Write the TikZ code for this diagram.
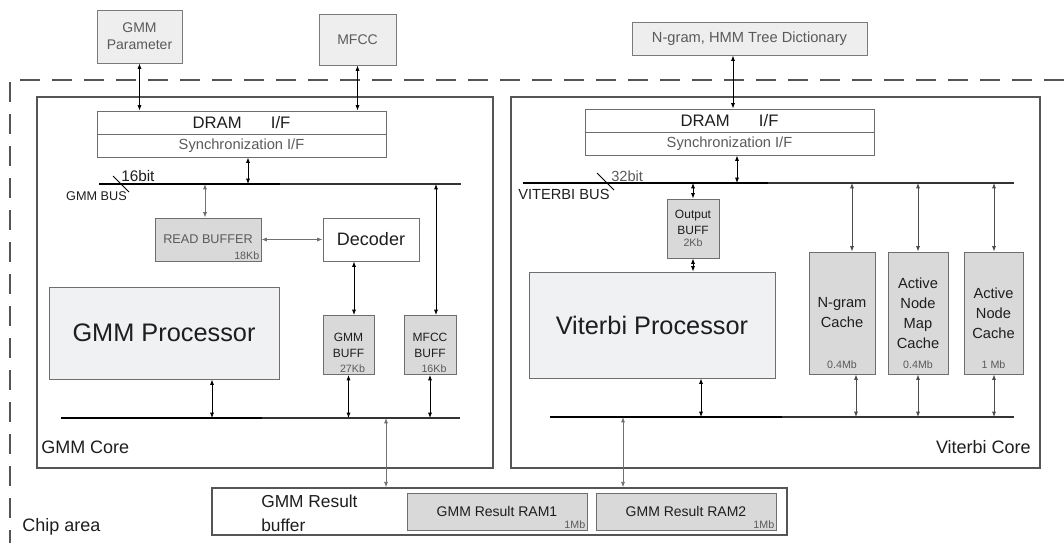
\documentclass[tikz,border=0pt]{standalone}
\usepackage{fontspec}
\setmainfont{Liberation Sans}
\usetikzlibrary{arrows.meta}
\usepackage{xcolor}
\definecolor{extfill}{HTML}{EEEEEE}
\definecolor{extline}{HTML}{7A7A7A}
\definecolor{boxline}{HTML}{6E6E6E}
\definecolor{buffill}{HTML}{D9D9D9}
\definecolor{procfill}{HTML}{F0F1F3}
\definecolor{coreline}{HTML}{555555}
\definecolor{txtdark}{HTML}{1E1E1E}
\definecolor{txtgray}{HTML}{5A5A5A}
\definecolor{arrgray}{HTML}{707070}
\newcommand\fsz[2]{\fontsize{#1}{#2}\selectfont}
\tikzset{
  box/.style 2 args={minimum width=#1*0.75pt, minimum height=#2*0.75pt, inner sep=0pt, align=center},
  ext/.style={draw=extline, fill=extfill, line width=0.7pt, text=txtgray, font=\fsz{10.5pt}{12.5pt}},
  blk/.style={draw=boxline, fill=white, line width=0.7pt, text=txtdark},
  buf/.style={draw=boxline, fill=buffill, line width=0.7pt, text=txtdark},
  proc/.style={draw=boxline, fill=procfill, line width=0.7pt, text=txtdark, font=\fsz{19pt}{22pt}},
  core/.style={draw=coreline, line width=1.6pt},
  chip/.style={draw=coreline, line width=2pt, dash pattern=on 15pt off 9pt},
  busthick/.style={draw=black, line width=1.7pt},
  busthin/.style={draw=black!80, line width=1.1pt},
  sizelbl/.style={font=\fsz{8pt}{9pt}, text=txtgray, inner sep=1.5pt},
  lbl/.style={inner sep=0pt, text=txtdark},
  arr/.style={<->, >={Latex[length=4pt,width=3pt]}, line width=0.6pt},
  garr/.style={arr, draw=arrgray}
}

\begin{document}
\begin{tikzpicture}[x=0.75pt,y=-0.75pt]
\useasboundingbox (0,0) rectangle (1064,543);

% outside the chip
\node[ext, box={85}{53}] (gpar) at (139.5,36.5) {GMM\\Parameter};
\node[ext, box={77}{51}] (mfcc) at (357.5,39.5) {MFCC};
\node[ext, box={235}{33}, font=\fsz{11pt}{13pt}] (dict) at (749.5,38.5) {N-gram, HMM Tree Dictionary};

\draw[chip] (1064,80) -- (10,80) -- (10,543);
\node[lbl, font=\fsz{13.5pt}{16pt}, anchor=west] (chiplbl) at (22,527) {Chip area};

% GMM core
\node[core, box={456}{371}] (gcore) at (265,282.5) {};
\node[lbl, font=\fsz{13.5pt}{16pt}, anchor=west] (gcorelbl) at (41,447) {GMM Core};

\node[blk, box={289}{23}, font=\fsz{12.5pt}{14pt}] (ldram) at (241.5,122.5) {DRAM\hspace{22pt}I/F};
\node[blk, box={289}{23}, font=\fsz{11pt}{13pt}, text=txtgray] (lsync) at (241.5,145.5) {Synchronization I/F};

\coordinate (gbusL) at (99,184);
\coordinate (gbusM) at (280,184);
\coordinate (gbusR) at (461,184);
\draw[busthick] (gbusL) -- (gbusM);
\draw[busthin] (gbusM) -- (gbusR);
\draw[line width=0.6pt] (113,176) -- (129,192);
\node[lbl, font=\fsz{11.5pt}{13pt}, anchor=west] (gbits) at (121,176) {16bit};
\node[lbl, font=\fsz{9.5pt}{11pt}, anchor=east] (gbusname) at (127,196) {GMM BUS};

\node[buf, box={106}{43}, font=\fsz{9.5pt}{11pt}, text=txtgray] (rbuf) at (208,239.5) {READ BUFFER};
\node[sizelbl, anchor=south east] (rbufsz) at (rbuf.south east) {18Kb};
\node[blk, box={96}{43}, font=\fsz{13.5pt}{16pt}] (dec) at (371,239.5) {Decoder};
\node[proc, box={230}{92}] (gproc) at (164,333) {GMM Processor};
\node[buf, box={51}{59}, font=\fsz{9pt}{12pt}] (gbuf) at (348.5,345) {GMM\\BUFF};
\node[sizelbl, anchor=south] (gbufsz) at ([xshift=3pt]gbuf.south) {27Kb};
\node[buf, box={52}{59}, font=\fsz{9pt}{12pt}] (mbuf) at (430,345) {MFCC\\BUFF};
\node[sizelbl, anchor=south] (mbufsz) at ([xshift=3pt]mbuf.south) {16Kb};

\coordinate (gbotL) at (61,418);
\coordinate (gbotM) at (262,418);
\coordinate (gbotR) at (460,418);
\draw[busthick] (gbotL) -- (gbotM);
\draw[busthin] (gbotM) -- (gbotR);

\draw[arr] (gpar.south) -- (gpar.south |- ldram.north);
\draw[arr] (mfcc.south) -- (mfcc.south |- ldram.north);
\draw[arr] (248,0 |- lsync.south) -- (248,0 |- gbusL);
\draw[garr] (205,0 |- gbusL) -- (205,0 |- rbuf.north);
\draw[arr] (436,0 |- gbusL) -- (436,0 |- mbuf.north);
\draw[garr] (rbuf.east) -- (dec.west);
\draw[arr] (354,0 |- dec.south) -- (354,0 |- mbuf.north);
\draw[arr] (212,0 |- gproc.south) -- (212,0 |- gbotL);
\draw[arr] (gbuf.south) -- (gbuf.south |- gbotL);
\draw[arr] (mbuf.south) -- (mbuf.south |- gbotL);

% Viterbi core
\node[core, box={529}{371}] (vcore) at (775.5,282.5) {};
\node[lbl, font=\fsz{13.5pt}{16pt}, anchor=east] (vcorelbl) at (1031,447) {Viterbi Core};

\node[blk, box={289}{23}, font=\fsz{12.5pt}{14pt}] (rdram) at (729.5,120.5) {DRAM\hspace{22pt}I/F};
\node[blk, box={289}{23}, font=\fsz{11pt}{13pt}, text=txtgray] (rsync) at (729.5,143.5) {Synchronization I/F};

\coordinate (vbusL) at (523,183);
\coordinate (vbusM) at (768,183);
\coordinate (vbusR) at (1014,183);
\draw[busthick] (vbusL) -- (vbusM);
\draw[busthin] (vbusM) -- (vbusR);
\draw[line width=0.6pt] (597,173) -- (614,190);
\node[lbl, font=\fsz{11pt}{13pt}, text=txtgray, anchor=west] (vbits) at (611,176) {32bit};
\node[lbl, font=\fsz{11pt}{13pt}, anchor=west] (vbusname) at (518,194) {VITERBI BUS};

\node[buf, box={52}{59}, font=\fsz{9pt}{12pt}] (obuf) at (693,228.5) {Output\\BUFF\\[-3pt]{\fsz{8pt}{9pt}\color{txtgray}2Kb}};
\node[proc, box={246}{106}] (vproc) at (652,325) {Viterbi Processor};
\node[buf, box={66}{122}, font=\fsz{11pt}{15pt}] (ncache) at (842,313) {N-gram\\Cache};
\node[sizelbl, anchor=south] (ncachesz) at ([yshift=3pt]ncache.south) {0.4Mb};
\node[buf, box={60}{122}, font=\fsz{11pt}{15pt}] (mcache) at (918,313) {Active\\Node\\Map\\Cache};
\node[sizelbl, anchor=south] (mcachesz) at ([yshift=3pt]mcache.south) {0.4Mb};
\node[buf, box={59}{122}, font=\fsz{11pt}{15pt}] (acache) at (993.5,313) {Active\\Node\\Cache};
\node[sizelbl, anchor=south] (acachesz) at ([yshift=3pt]acache.south) {1 Mb};

\coordinate (vbotL) at (550,417);
\coordinate (vbotM) at (782,417);
\coordinate (vbotR) at (1014,417);
\draw[busthick] (vbotL) -- (vbotM);
\draw[busthin] (vbotM) -- (vbotR);

\draw[arr] (733,0 |- dict.south) -- (733,0 |- rdram.north);
\draw[arr] (737,0 |- rsync.south) -- (737,0 |- vbusL);
\draw[arr] (obuf.north |- vbusL) -- (obuf.north);
\draw[arr] (obuf.south) -- (obuf.south |- vproc.north);
\draw[arr, draw=black!70] (852,0 |- vbusL) -- (852,0 |- ncache.north);
\draw[arr, draw=black!70] (918,0 |- vbusL) -- (918,0 |- mcache.north);
\draw[arr, draw=black!70] (994,0 |- vbusL) -- (994,0 |- acache.north);
\draw[arr] (701,0 |- vproc.south) -- (701,0 |- vbotL);
\draw[arr, draw=black!70] (856,0 |- ncache.south) -- (856,0 |- vbotL);
\draw[arr, draw=black!70] (918,0 |- mcache.south) -- (918,0 |- vbotL);
\draw[arr, draw=black!70] (994,0 |- acache.south) -- (994,0 |- vbotL);

% result buffer
\node[blk, box={575}{47}, draw=coreline, line width=1.1pt] (resbuf) at (499.5,511.5) {};
\node[lbl, font=\fsz{13pt}{18pt}, align=left, anchor=west] (restxt) at (261,513) {GMM Result\\buffer};
\node[buf, box={180}{37}, font=\fsz{10.5pt}{12pt}] (ram1) at (497,511.5) {GMM Result RAM1};
\node[sizelbl, anchor=south east] (ram1sz) at (ram1.south east) {1Mb};
\node[buf, box={180}{37}, font=\fsz{10.5pt}{12pt}] (ram2) at (686,511.5) {GMM Result RAM2};
\node[sizelbl, anchor=south east] (ram2sz) at (ram2.south east) {1Mb};

\draw[garr] (386,0 |- gbotL) -- (386,0 |- resbuf.north);
\draw[garr] (623,0 |- vbotL) -- (623,0 |- resbuf.north);

\end{tikzpicture}
\end{document}
